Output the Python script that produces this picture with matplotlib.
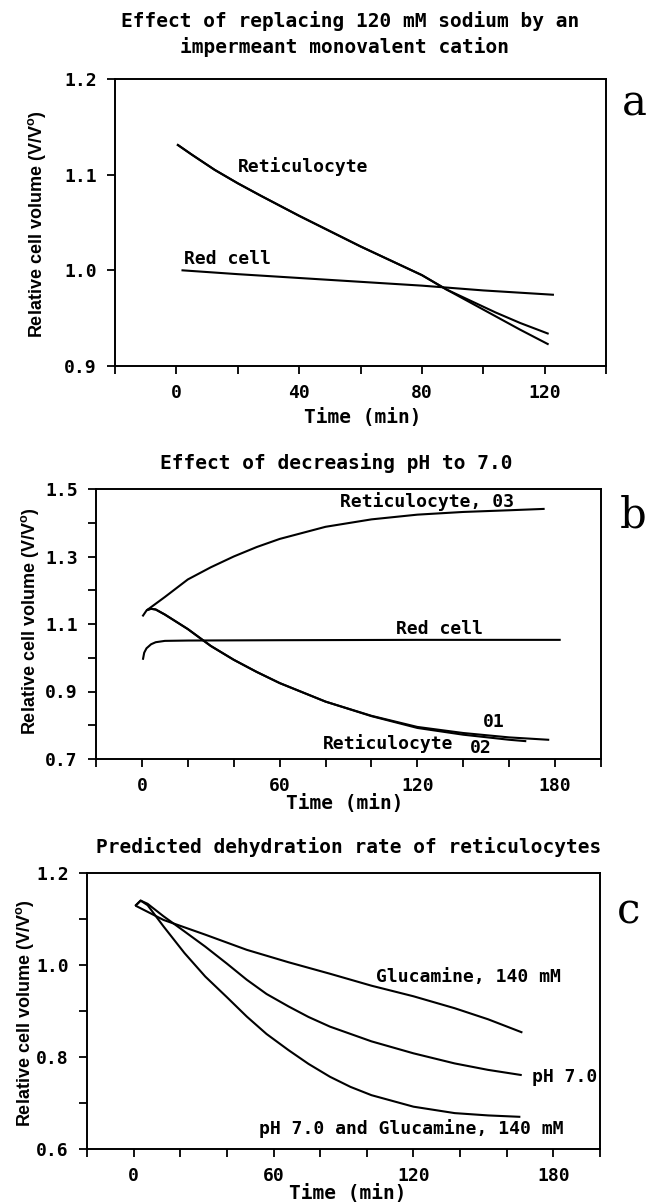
import matplotlib
matplotlib.use("Agg")
import matplotlib.pyplot as plt
from matplotlib.ticker import FixedLocator, FixedFormatter

plt.rcParams['font.family'] = ['DejaVu Sans Mono', 'DejaVu Sans']
plt.rcParams['font.weight'] = 'bold'
plt.rcParams['mathtext.default'] = 'regular'

# ---------------- data ----------------
# Panel a
a_ret_t = [0.5, 5, 12.5, 20, 27.5, 40, 50, 60, 70, 80, 88, 96, 104, 112, 121]
a_ret_1 = [1.131, 1.121, 1.105, 1.091, 1.078, 1.057, 1.041, 1.025, 1.010, 0.995,
           0.980, 0.968, 0.956, 0.945, 0.934]
a_ret_2 = [1.131, 1.121, 1.105, 1.091, 1.078, 1.057, 1.041, 1.025, 1.010, 0.995,
           0.980, 0.966, 0.952, 0.938, 0.923]
a_red_t = [2, 20, 40, 60, 80, 100, 122.7]
a_red_v = [1.000, 0.996, 0.992, 0.988, 0.984, 0.979, 0.9745]

# Panel b
b_r03_t = [0.5, 2, 4, 10, 20, 30, 40, 50, 60, 80, 100, 120, 140, 160, 175]
b_r03_v = [1.125, 1.140, 1.150, 1.180, 1.232, 1.268, 1.300, 1.328, 1.352, 1.388,
           1.410, 1.424, 1.432, 1.437, 1.441]
b_red_t = [0.5, 1, 2, 4, 6, 10, 20, 60, 120, 182]
b_red_v = [0.997, 1.015, 1.028, 1.040, 1.046, 1.050, 1.051, 1.052, 1.053, 1.053]
b_r01_t = [2.5, 4, 6, 10, 20, 27, 30, 40, 50, 60, 80, 100, 120, 140, 160, 177]
b_r01_v = [1.142, 1.145, 1.143, 1.128, 1.085, 1.050, 1.035, 0.994, 0.958, 0.925,
           0.870, 0.828, 0.795, 0.777, 0.764, 0.757]
b_r02_t = [2.5, 4, 6, 10, 20, 27, 30, 40, 50, 60, 80, 100, 120, 140, 160, 167]
b_r02_v = [1.142, 1.145, 1.143, 1.128, 1.085, 1.050, 1.035, 0.994, 0.958, 0.925,
           0.870, 0.827, 0.792, 0.772, 0.757, 0.753]

# Panel c
c_glu_t = [1.2, 12.8, 30.7, 48.5, 66.4, 84.2, 102, 120, 137.7, 152, 166.3]
c_glu_v = [1.128, 1.098, 1.066, 1.033, 1.006, 0.981, 0.955, 0.932, 0.906, 0.882, 0.854]
c_ph_t = [1, 3, 6, 12.8, 21.8, 30.7, 40, 48.5, 57, 66.4, 75, 84.2, 102, 120, 137.7, 152, 166]
c_ph_v = [1.130, 1.140, 1.133, 1.106, 1.073, 1.040, 1.003, 0.968, 0.937, 0.910,
          0.887, 0.866, 0.834, 0.808, 0.786, 0.772, 0.761]
c_phg_t = [1, 3, 6, 12.8, 21.8, 30.7, 40, 48.5, 57, 66.4, 75, 84.2, 93, 102, 120,
           137.7, 152, 165.4]
c_phg_v = [1.130, 1.140, 1.130, 1.084, 1.026, 0.975, 0.930, 0.888, 0.850, 0.815,
           0.785, 0.757, 0.735, 0.717, 0.692, 0.678, 0.673, 0.670]

# ---------------- figure ----------------
W, H = 649, 1204
fig = plt.figure(figsize=(W / 100, H / 100), dpi=100)

FS = 13        # tick labels / curve labels
FT = 14        # titles and x labels
FY = 13        # y labels
LW = 1.5


def fx(px):
    return px / W


def fy(py):
    return 1 - py / H


def make_ax(l, r, t, b):
    return fig.add_axes([l / W, 1 - b / H, (r - l) / W, (b - t) / H])


def style(ax, xlim, xmaj, xmin, ylim, yticks, ylabels):
    ax.set_xlim(*xlim)
    ax.set_ylim(*ylim)
    ax.xaxis.set_major_locator(FixedLocator(xmaj))
    ax.xaxis.set_minor_locator(FixedLocator(xmin))
    ax.yaxis.set_major_locator(FixedLocator(yticks))
    ax.yaxis.set_major_formatter(FixedFormatter(ylabels))
    ax.tick_params(which='both', direction='out', length=6, width=1.3,
                   labelsize=FS, pad=7)
    for s in ax.spines.values():
        s.set_linewidth(1.4)


YLAB = 'Relative cell volume (V/V$^{o}$)'
YFAM = ['Liberation Sans', 'DejaVu Sans']

# ---- Panel a ----
axa = make_ax(115, 606, 79, 366)
axa.plot(a_ret_t, a_ret_1, color='black', lw=LW)
axa.plot(a_ret_t, a_ret_2, color='black', lw=LW)
axa.plot(a_red_t, a_red_v, color='black', lw=LW)
style(axa, (-20, 140), [0, 40, 80, 120], [-20, 20, 60, 100, 140],
      (0.9, 1.2), [0.9, 1.0, 1.1, 1.2], ['0.9', '1.0', '1.1', '1.2'])
axa.text(20, 1.109, 'Reticulocyte', fontsize=FS, ha='left', va='center')
axa.text(2.5, 1.012, 'Red cell', fontsize=FS, ha='left', va='center')

fig.text(fx(350), fy(21), 'Effect of replacing 120 mM sodium by an',
         fontsize=FT, ha='center', va='center')
fig.text(fx(345), fy(47), 'impermeant monovalent cation',
         fontsize=FT, ha='center', va='center')
fig.text(fx(363), fy(417), 'Time (min)', fontsize=FT, ha='center', va='center')
fig.text(fx(37), fy(224), YLAB, fontsize=FY, family=YFAM, rotation=90,
         ha='center', va='center')
fig.text(fx(634), fy(104), 'a', fontsize=30, family='DejaVu Serif',
         weight='normal', ha='center', va='center')

# ---- Panel b ----
axb = make_ax(96, 601, 489, 759)
axb.plot(b_r03_t, b_r03_v, color='black', lw=LW)
axb.plot(b_red_t, b_red_v, color='black', lw=LW)
axb.plot(b_r01_t, b_r01_v, color='black', lw=LW)
axb.plot(b_r02_t, b_r02_v, color='black', lw=LW)
style(axb, (-20, 200), [0, 60, 120, 180], [-20, 20, 40, 80, 100, 140, 160, 200],
      (0.7, 1.5), [0.7, 0.8, 0.9, 1.0, 1.1, 1.2, 1.3, 1.4, 1.5],
      ['0.7', '', '0.9', '', '1.1', '', '1.3', '', '1.5'])
axb.text(86.3, 1.462, 'Reticulocyte, 03', fontsize=FS, ha='left', va='center')
axb.text(110.6, 1.086, 'Red cell', fontsize=FS, ha='left', va='center')
axb.text(148.6, 0.811, '01', fontsize=FS, ha='left', va='center')
axb.text(78.8, 0.747, 'Reticulocyte', fontsize=FS, ha='left', va='center')
axb.text(142.8, 0.733, '02', fontsize=FS, ha='left', va='center')

fig.text(fx(336), fy(463), 'Effect of decreasing pH to 7.0', fontsize=FT,
         ha='center', va='center')
fig.text(fx(345), fy(803), 'Time (min)', fontsize=FT, ha='center', va='center')
fig.text(fx(30), fy(621), YLAB, fontsize=FY, family=YFAM, rotation=90,
         ha='center', va='center')
fig.text(fx(633), fy(516), 'b', fontsize=30, family='DejaVu Serif',
         weight='normal', ha='center', va='center')

# ---- Panel c ----
axc = make_ax(87, 600, 873, 1149)
axc.plot(c_glu_t, c_glu_v, color='black', lw=LW)
axc.plot(c_ph_t, c_ph_v, color='black', lw=LW)
axc.plot(c_phg_t, c_phg_v, color='black', lw=LW)
style(axc, (-20, 200), [0, 60, 120, 180], [-20, 20, 40, 80, 100, 140, 160, 200],
      (0.6, 1.2), [0.6, 0.7, 0.8, 0.9, 1.0, 1.1, 1.2],
      ['0.6', '', '0.8', '', '1.0', '', '1.2'])
axc.text(103.8, 0.974, 'Glucamine, 140 mM', fontsize=FS, ha='left', va='center')
axc.text(170.7, 0.756, 'pH 7.0', fontsize=FS, ha='left', va='center')
axc.text(53.9, 0.645, 'pH 7.0 and Glucamine, 140 mM', fontsize=FS,
         ha='left', va='center')

fig.text(fx(349), fy(847), 'Predicted dehydration rate of reticulocytes',
         fontsize=FT, ha='center', va='center')
fig.text(fx(348), fy(1193), 'Time (min)', fontsize=FT, ha='center', va='center')
fig.text(fx(25), fy(1013), YLAB, fontsize=FY, family=YFAM, rotation=90,
         ha='center', va='center')
fig.text(fx(629), fy(912), 'c', fontsize=30, family='DejaVu Serif',
         weight='normal', ha='center', va='center')

fig.savefig('out.png', dpi=100)
